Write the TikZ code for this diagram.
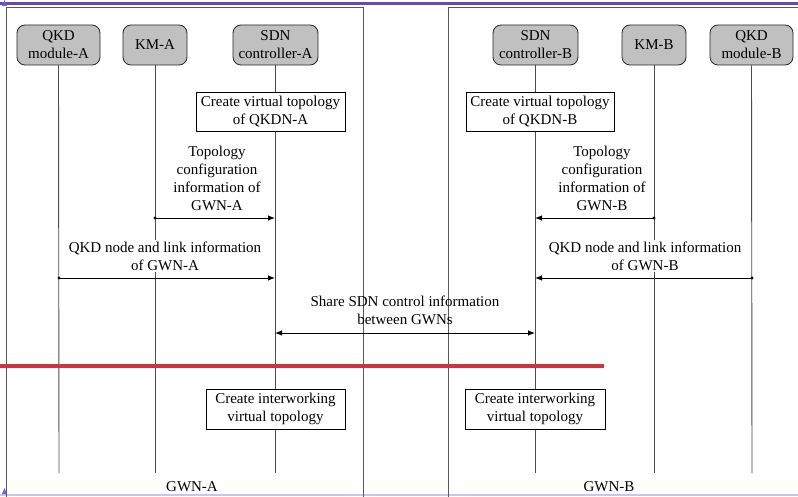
\documentclass[tikz,border=0pt]{standalone}
\usepackage{fontspec}
\setmainfont{Liberation Serif}
\usetikzlibrary{arrows.meta,backgrounds}
\definecolor{boxgray}{RGB}{192,192,192}
\definecolor{cutred}{RGB}{208,52,58}
\definecolor{topband}{RGB}{104,72,184}
\definecolor{botband}{RGB}{200,198,240}
\definecolor{marker}{RGB}{100,100,225}
\begin{document}
\begin{tikzpicture}[x=1pt,y=-1pt,
  font=\rmfamily\fontsize{15}{18}\selectfont,
  actor/.style={draw=black!85, fill=boxgray, rounded corners=8pt, minimum height=40pt,
    align=center, inner sep=1pt, line width=0.8pt},
  procbox/.style={draw=black, fill=white, align=center, inner sep=1pt, line width=0.8pt},
  lifeline/.style={draw=black!70, line width=0.9pt},
  frame/.style={draw=black!65, line width=0.9pt},
  msg/.style={line width=0.9pt, -{Latex[length=7pt,width=5.5pt]}},
  bimsg/.style={line width=0.9pt, {Latex[length=7pt,width=5.5pt]}-{Latex[length=7pt,width=5.5pt]}},
  dot/.style={circle, fill=black, inner sep=0pt, minimum size=3.2pt},
  label/.style={align=center, inner sep=0pt},
  maskedlabel/.style={align=center, inner sep=2pt, fill=white}]
\useasboundingbox (0,0) rectangle (798,497);

% page bands
\fill[topband] (0,2.2) rectangle (798,4.6);
\fill[botband] (0,493.6) rectangle (798,495.6);
\fill[marker] (2,6) -- (4.5,0) -- (7,6) -- cycle;
\fill[marker] (2,494) -- (4.5,488) -- (7,494) -- cycle;

% domain frames
\draw[frame] (6,497) -- (6,7) -- (363,7) -- (363,497);
\draw[frame] (448,497) -- (448,7) -- (798,7);

% entities
\node[actor, minimum width=83pt] (qkdA) at (58.5,45) {QKD\\module-A};
\node[actor, minimum width=64pt] (kmA) at (155,45) {KM-A};
\node[actor, minimum width=85pt] (sdnA) at (275.5,45) {SDN\\controller-A};
\node[actor, minimum width=85pt] (sdnB) at (535.5,45) {SDN\\controller-B};
\node[actor, minimum width=64pt] (kmB) at (654,45) {KM-B};
\node[actor, minimum width=83pt] (qkdB) at (751.5,45) {QKD\\module-B};

% processing steps
\node[procbox, minimum width=149pt, minimum height=39pt] (cvtA) at (270.5,111.5) {Create virtual topology\\of QKDN-A};
\node[procbox, minimum width=148pt, minimum height=39pt] (cvtB) at (540,111.5) {Create virtual topology\\of QKDN-B};
\node[procbox, minimum width=139pt, minimum height=40pt] (ciwA) at (275.5,409) {Create interworking\\virtual topology};
\node[procbox, minimum width=140pt, minimum height=40pt] (ciwB) at (535,409) {Create interworking\\virtual topology};

% lifeline ends
\coordinate (endQA) at (59,473);
\coordinate (endKA) at (155,473);
\coordinate (endSA) at (275,473);
\coordinate (endSB) at (535,473);
\coordinate (endKB) at (654,473);
\coordinate (endQB) at (752,473);

\begin{pgfonlayer}{background}
  \draw[lifeline] (qkdA.south) -- (endQA);
  \draw[lifeline] (kmA.south) -- (endKA);
  \draw[lifeline] (sdnA.south -| endSA) -- (endSA);
  \draw[lifeline] (sdnB.south -| endSB) -- (endSB);
  \draw[lifeline] (kmB.south) -- (endKB);
  \draw[lifeline] (qkdB.south) -- (endQB);
\end{pgfonlayer}

% message anchors
\coordinate (tA1) at (155,218); \coordinate (tA2) at (275,218);
\coordinate (qA1) at (59,278);  \coordinate (qA2) at (275,278);
\coordinate (tB1) at (654,218); \coordinate (tB2) at (535,218);
\coordinate (qB1) at (752,278); \coordinate (qB2) at (535,278);
\coordinate (sh1) at (275,333); \coordinate (sh2) at (535,333);

% messages
\draw[msg] (tA1) -- (tA2);
\node[dot] at (tA1) {};
\draw[msg] (qA1) -- (qA2);
\node[dot] at (qA1) {};
\draw[msg] (tB1) -- (tB2);
\node[dot] at (tB1) {};
\draw[msg] (qB1) -- (qB2);
\node[dot] at (qB1) {};
\draw[bimsg] (sh1) -- (sh2);

\node[label] (lTA) at (217,178) {Topology\\configuration\\information of\\GWN-A};
\node[maskedlabel] (lQA) at (165,256) {QKD node and link information\\of GWN-A};
\node[label] (lTB) at (602,178) {Topology\\configuration\\information of\\GWN-B};
\node[maskedlabel] (lQB) at (645,256) {QKD node and link information\\of GWN-B};
\node[label] (lSh) at (405,310.5) {Share SDN control information\\between GWNs};

% separation line
\draw[cutred, line width=4pt] (0,366) -- (604,366);

% domain names
\node[label] (gwnA) at (192,487) {GWN-A};
\node[label] (gwnB) at (609,487) {GWN-B};
\end{tikzpicture}
\end{document}
